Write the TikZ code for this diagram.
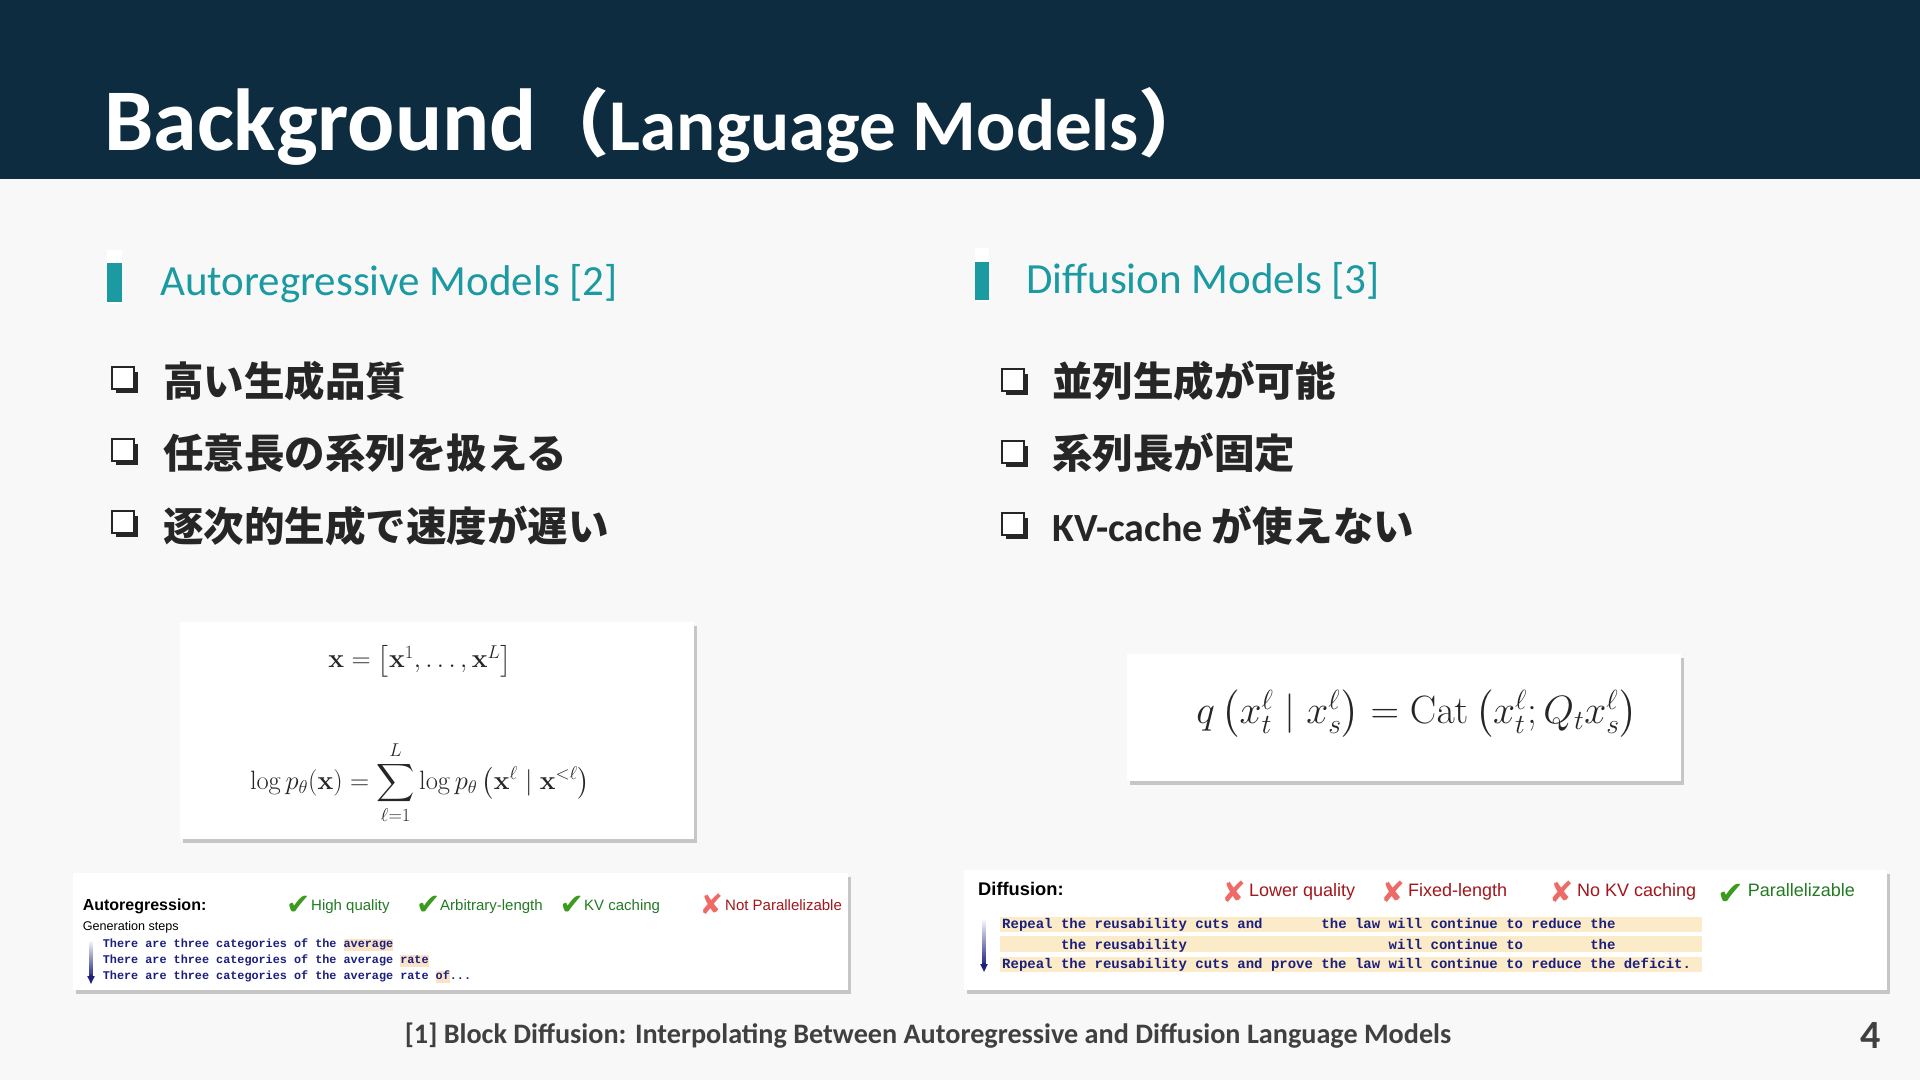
\RequirePackage{fix-cm}
\documentclass[tikz,border=0pt]{standalone}
\usepackage{amsmath}
\usepackage{amssymb}
\usepackage[no-math]{fontspec}
\setmainfont{Carlito}
\newfontfamily\cjk{Noto Sans CJK JP}
\newfontfamily\dejavu{DejaVu Sans}
\newfontfamily\arialf{Liberation Sans}
\newfontfamily\courf{Liberation Mono}
\usetikzlibrary{arrows.meta,shadows,calc}

\definecolor{band}{HTML}{0D2C40}
\definecolor{pagebg}{HTML}{F8F8F8}
\definecolor{headteal}{HTML}{1B9AA1}
\definecolor{inkgray}{HTML}{262626}
\definecolor{footgray}{HTML}{404040}
\definecolor{okgreen}{HTML}{3C9A1E}
\definecolor{oktext}{HTML}{237A23}
\definecolor{ngred}{HTML}{EE6A66}
\definecolor{ngtext}{HTML}{A3161B}
\definecolor{codeblue}{HTML}{1B1F7E}
\definecolor{hlpeach}{HTML}{FAE3C6}
\definecolor{hlband}{HTML}{FBEBC8}

\newcommand{\hlw}[1]{{\setlength{\fboxsep}{0pt}\colorbox{hlpeach}{\strut #1}}}

\begin{document}
\begin{tikzpicture}[x=1pt,y=-1pt,
	heading/.style={anchor=base west,inner sep=0,text=headteal,font=\fontsize{43}{50}\selectfont},
	bulletbox/.style={draw=inkgray,line width=2.3,fill=white,minimum size=21.7,inner sep=0,drop shadow={shadow xshift=4pt,shadow yshift=-4.5pt,fill=inkgray,opacity=1}},
	bullet/.style={anchor=base west,inner sep=0,text=inkgray,font=\cjk\bfseries\fontsize{40.5}{48}\selectfont},
	card/.style={fill=white,inner sep=0,drop shadow={shadow xshift=3pt,shadow yshift=-4pt,fill=black,opacity=.2}},
	eq/.style={inner sep=0,text=black!85},
	paneltag/.style={anchor=base west,inner sep=0,font=\arialf\bfseries\fontsize{#1}{#1}\selectfont},
	okmark/.style={anchor=base west,inner sep=0,text=okgreen,font=\dejavu\bfseries\fontsize{#1}{#1}\selectfont},
	ngmark/.style={anchor=base west,inner sep=0,text=ngred,font=\dejavu\bfseries\fontsize{#1}{#1}\selectfont},
	ok/.style={anchor=base west,inner sep=0,text=oktext,font=\arialf\fontsize{#1}{#1}\selectfont},
	ng/.style={anchor=base west,inner sep=0,text=ngtext,font=\arialf\fontsize{#1}{#1}\selectfont},
	mono/.style={anchor=base west,inner sep=0,text=codeblue,font=\courf\bfseries\fontsize{#1}{#1}\selectfont},
	stepshaft/.style={top color=codeblue!4,bottom color=codeblue},
	stephead/.style={codeblue,line width=2.6,-{Triangle[length=8,width=7]}}]

	\fill[pagebg] (0,0) rectangle (1920,1080);
	\fill[band] (0,0) rectangle (1920,179);
	\useasboundingbox (0,0) rectangle (1920,1080);

	\node[anchor=base west,inner sep=0,text=white] (title) at (104,150.7) {{\bfseries\fontsize{88}{96}\selectfont Background}{\cjk\bfseries\fontsize{73}{80}\selectfont （}{\bfseries\fontsize{73}{80}\selectfont Language Models}{\cjk\bfseries\fontsize{73}{80}\selectfont ）}};

	\fill[white] (107.3,250) rectangle (122.3,304);
	\fill[headteal] (107.3,263.3) rectangle (122.3,301.7);
	\node[heading] (arhead) at (160,295) {Autoregressive Models [2]};
	\fill[white] (974.7,248) rectangle (988.7,302);
	\fill[headteal] (974.7,261.5) rectangle (988.7,299.7);
	\node[heading] (dfhead) at (1026,293.6) {Diffusion Models [3]};

	\node[bulletbox] (arbox1) at (123,378) {};
	\node[bullet] (ar1) at (162.9,396.5) {高い生成品質};
	\node[bulletbox] (arbox2) at (123,450) {};
	\node[bullet] (ar2) at (162.9,468.5) {任意長の系列を扱える};
	\node[bulletbox] (arbox3) at (123,522) {};
	\node[bullet] (ar3) at (162.9,541) {逐次的生成で速度が遅い};

	\node[bulletbox] (dfbox1) at (1013,380) {};
	\node[bullet] (df1) at (1052,396.5) {並列生成が可能};
	\node[bulletbox] (dfbox2) at (1013,452) {};
	\node[bullet] (df2) at (1052,468.5) {系列長が固定};
	\node[bulletbox] (dfbox3) at (1013,524) {};
	\node[bullet] (df3) at (1052,541) {{\rmfamily\bfseries\fontsize{40}{48}\selectfont KV-cache }が使えない};

	\node[card,minimum width=514,minimum height=217] (areqbox) at (437,730.5) {};
	\node[eq,font=\fontsize{26.5}{30}\selectfont] (xdef) at (420,661) {$\mathbf{x}=\left[\mathbf{x}^1,\ldots,\mathbf{x}^L\right]$};
	\node[eq,font=\fontsize{26.5}{30}\selectfont] (arlik) at (420,783) {$\displaystyle \log p_\theta(\mathbf{x})=\sum_{\ell=1}^L \log p_\theta\left(\mathbf{x}^\ell \mid \mathbf{x}^{<\ell}\right)$};

	\node[card,minimum width=554,minimum height=127] (dfeqbox) at (1404,717.5) {};
	\node[eq,font=\fontsize{39.5}{44}\selectfont] (dfq) at (1417,714) {$q\left(x_t^\ell \mid x_s^\ell\right)=\operatorname{Cat}\left(x_t^\ell ; Q_t x_s^\ell\right)$};

	\node[card,minimum width=775,minimum height=117] (arpanel) at (460.5,931.5) {};
	\node[paneltag=16] (arname) at (82.6,910.7) {Autoregression:};
	\node[okmark=29] (arck1) at (286,914) {✔};
	\node[ok=15] (arpro1) at (311,910) {High quality};
	\node[okmark=29] (arck2) at (416,914) {✔};
	\node[ok=15] (arpro2) at (440,910) {Arbitrary-length};
	\node[okmark=29] (arck3) at (559.5,914) {✔};
	\node[ok=15] (arpro3) at (584,910) {KV caching};
	\node[ngmark=28] (arng1) at (699.5,914) {✘};
	\node[ng=15] (arcon1) at (725,910) {Not Parallelizable};
	\node[anchor=base west,inner sep=0,font=\arialf\fontsize{12.6}{14}\selectfont] (argen) at (82.6,930) {Generation steps};
	\node[mono=11.8] (arline1) at (102.7,947.7) {There are three categories of the \hlw{average}};
	\node[mono=11.8] (arline2) at (102.7,963.3) {There are three categories of the average \hlw{rate}};
	\node[mono=11.8] (arline3) at (102.7,979.3) {There are three categories of the average rate \hlw{of}...};
	\coordinate (artop) at (91,941);
	\coordinate (arbot) at (91,984);
	\shade[stepshaft] ($(artop)+(-1.3,0)$) rectangle ($(arbot)+(1.3,-6)$);
	\draw[stephead] ($(arbot)+(0,-9)$) -- (arbot);

	\node[card,minimum width=923,minimum height=120] (dfpanel) at (1425,930) {};
	\node[paneltag=18.3] (dfname) at (978,895.7) {Diffusion:};
	\node[ngmark=29] (dfng1) at (1221.5,902) {✘};
	\node[ng=18] (dfcon1) at (1249,896) {Lower quality};
	\node[ngmark=29] (dfng2) at (1380.5,902) {✘};
	\node[ng=18] (dfcon2) at (1408,896) {Fixed-length};
	\node[ngmark=29] (dfng3) at (1549,902) {✘};
	\node[ng=18] (dfcon3) at (1577,896) {No KV caching};
	\node[okmark=32] (dfck1) at (1717,904) {✔};
	\node[ok=18] (dfpro1) at (1747.6,896) {Parallelizable};
	\fill[hlband] (1000,916.7) rectangle (1702,931.7);
	\fill[hlband] (1000,935.7) rectangle (1702,952.3);
	\fill[hlband] (1000,956.7) rectangle (1702,972.3);
	\node[mono=14] (dfline1) at (1002,928.3) {Repeal the reusability cuts and \phantom{prove} the law will continue to reduce the};
	\node[mono=14] (dfline2) at (1002,949) {\phantom{Repeal} the reusability \phantom{cuts and prove the law} will continue to \phantom{reduce} the};
	\node[mono=14] (dfline3) at (1002,968.3) {Repeal the reusability cuts and prove the law will continue to reduce the deficit.};
	\coordinate (dftop) at (984,920);
	\coordinate (dfbot) at (984,972);
	\shade[stepshaft] ($(dftop)+(-1.3,0)$) rectangle ($(dfbot)+(1.3,-6)$);
	\draw[stephead] ($(dfbot)+(0,-9)$) -- (dfbot);

	\node[anchor=base west,inner sep=0,text=footgray,font=\bfseries\fontsize{28.2}{32}\selectfont] (cite) at (404.6,1043.3) {[1] Block Diffusion: Interpolating Between Autoregressive and Diffusion Language Models};
	\node[anchor=base east,inner sep=0,text=footgray,font=\bfseries\fontsize{40}{44}\selectfont] (pageno) at (1881,1048.3) {4};
\end{tikzpicture}
\end{document}
